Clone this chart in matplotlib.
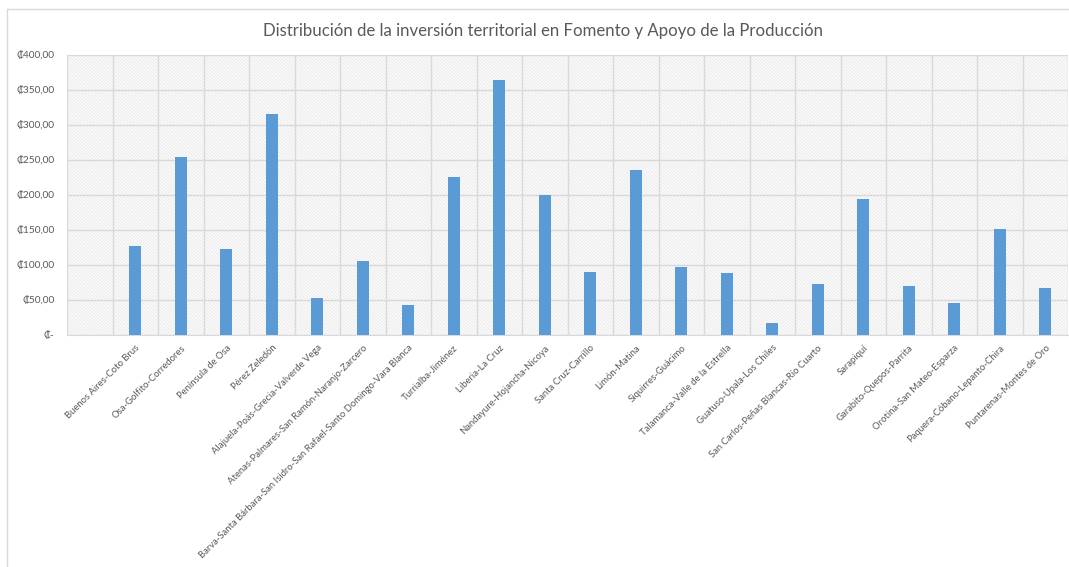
import matplotlib
matplotlib.use("Agg")
import matplotlib.pyplot as plt
from matplotlib.lines import Line2D
from matplotlib.ticker import FuncFormatter, MultipleLocator
import numpy as np

plt.rcParams['font.family'] = ['Lato', 'DejaVu Sans']
plt.rcParams['hatch.linewidth'] = 0.4

# data (first slot is an empty category)
territorios = ["",
    "Buenos Aires-Coto Brus", "Osa-Golfito-Corredores", "Península de Osa",
    "Pérez Zeledón", "Alajuela-Poás-Grecia-Valverde Vega",
    "Atenas-Palmares-San Ramón-Naranjo-Zarcero",
    "Barva-Santa Bárbara-San Isidro-San Rafael-Santo Domingo-Vara Blanca",
    "Turrialba-Jiménez", "Liberia-La Cruz", "Nandayure-Hojancha-Nicoya",
    "Santa Cruz-Carrillo", "Limón-Matina", "Siquirres-Guácimo",
    "Talamanca-Valle de la Estrella", "Guatuso-Upala-Los Chiles",
    "San Carlos-Peñas Blancas-Río Cuarto", "Sarapiquí",
    "Garabito-Quepos-Parrita", "Orotina-San Mateo-Esparza",
    "Paquera-Cóbano-Lepanto-Chira", "Puntarenas-Montes de Oro"]
inversion = [0, 127, 254, 123, 316, 53, 106, 43, 225, 364, 200, 90, 235, 97,
             89, 17, 73, 194, 70, 46, 152, 67]

gray = '#595959'
grid = '#d9d9d9'

fig = plt.figure(figsize=(10.69, 5.67), dpi=100)
ax = fig.add_axes([67/1069, 1-335/567, (1068-67)/1069, (335-55)/567])

x = np.arange(len(territorios))
ax.bar(x, inversion, width=0.27, color='#5B9BD5', zorder=3)

ax.set_xlim(-0.5, len(territorios)-0.5)
ax.set_ylim(0, 400)
ax.yaxis.set_major_locator(MultipleLocator(50))

def colones(v, pos):
    if v == 0:
        return '₡-'
    return '₡' + f'{v:.2f}'.replace('.', ',')
ax.yaxis.set_major_formatter(FuncFormatter(colones))

# excel style diagonal pattern fill
ax.patch.set_facecolor('#fafafa')
ax.patch.set_hatch('\\' * 10)
ax.patch.set_edgecolor('#e2e2e2')

ax.set_xticks(x)
ax.set_xticklabels(territorios, rotation=45, ha='right', rotation_mode='anchor',
                   fontsize=6.8, color=gray)
ax.set_xticks(np.arange(len(territorios)+1)-0.5, minor=True)
ax.tick_params(axis='x', which='both', length=0, pad=6)
ax.tick_params(axis='y', length=0, labelsize=7.3, labelcolor=gray, pad=9)

ax.grid(axis='y', color=grid, linewidth=1, zorder=1)
ax.grid(axis='x', which='minor', color=grid, linewidth=1, zorder=1)
ax.grid(axis='x', which='major', visible=False)
ax.set_axisbelow(True)

for s in ['top', 'right', 'left']:
    ax.spines[s].set_visible(False)
ax.spines['bottom'].set_color(grid)

fig.text(0.508, 1-31/567, 'Distribución de la inversión territorial en Fomento y Apoyo de la Producción',
         ha='center', va='center', fontsize=12.1, color=gray)

# outer chart border
fig.add_artist(Line2D([6.5/1069, 6.5/1069], [0, 1-9/567], color='#d9d9d9', lw=1))
fig.add_artist(Line2D([6.5/1069, 1], [1-9/567, 1-9/567], color='#d9d9d9', lw=1))

fig.savefig('out.png', dpi=100)
